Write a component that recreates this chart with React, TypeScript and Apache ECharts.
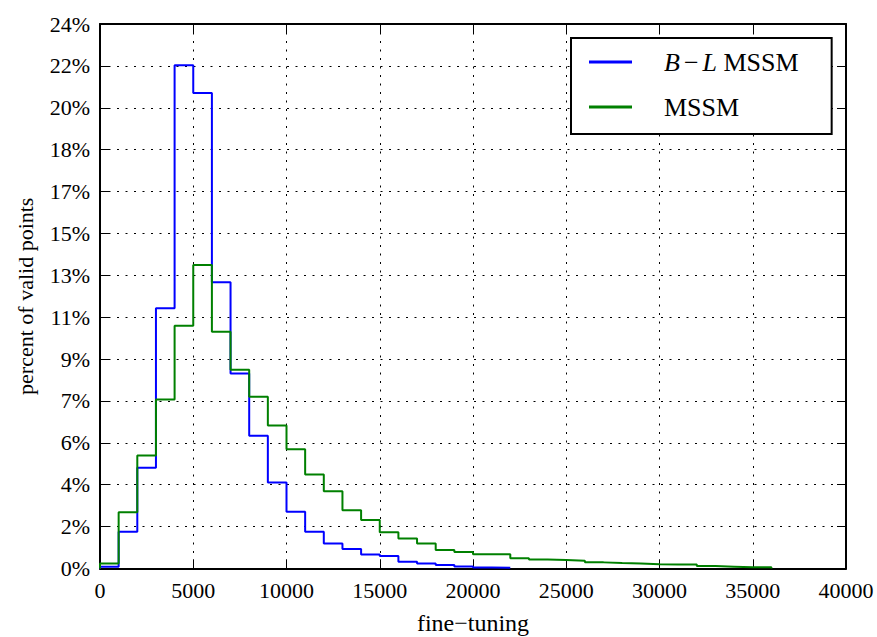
import React, { useEffect, useRef } from "react";
import * as echarts from "echarts";

// Histogram of fine-tuning values, bins of width 1000 starting at 0 (percent of valid points per bin)
const binWidth = 1000;
const blMssmPercent = [
  0.08, 1.62, 4.44, 11.47, 22.18, 20.96, 12.62, 8.6, 5.85, 3.79, 2.5, 1.62, 1.1, 0.86, 0.62,
  0.55, 0.3, 0.22, 0.15, 0.09, 0.04, 0.03,
];
const mssmPercent = [
  0.22, 2.48, 4.98, 7.45, 10.7, 13.38, 10.43, 8.76, 7.57, 6.3, 5.26, 4.14, 3.4, 2.57, 2.14, 1.6,
  1.32, 1.1, 0.82, 0.73, 0.63, 0.63, 0.45, 0.4, 0.37, 0.34, 0.27, 0.24, 0.22, 0.19, 0.18, 0.18,
  0.11, 0.08, 0.05, 0.05,
];
const seriesNames = ["B\u2212L MSSM", "MSSM"];
const xTicks = { min: 0, max: 40000, interval: 5000 };
const yTicks = { min: 0, max: 24, count: 13 };

const FONT = "Liberation Serif";

// Turn bin heights into the outline of a step histogram
function stepOutline(values: number[]): [number, number][] {
  const pts: [number, number][] = [[0, 0]];
  values.forEach((v, i) => pts.push([i * binWidth, v]));
  pts.push([values.length * binWidth, 0]);
  return pts;
}

export default function App() {
  const ref = useRef<HTMLDivElement>(null);

  useEffect(() => {
    if (!ref.current) return;
    const chart = echarts.init(ref.current, null, { renderer: "svg" });
    const yInterval = yTicks.max / yTicks.count;
    const dotted = { color: "#000", width: 1, type: [2, 6.5] as number[] };
    const boxLine = { show: true, onZero: false, lineStyle: { color: "#000", width: 2 } };
    const inTicks = { show: true, inside: true, length: 9, lineStyle: { color: "#000", width: 1 } };

    chart.setOption({
      animation: false,
      backgroundColor: "#fff",
      textStyle: { fontFamily: FONT },
      grid: {
        left: 100,
        right: 31,
        top: 24,
        bottom: 68.5,
        containLabel: false,
        outerBoundsMode: "none",
      },
      legend: {
        orient: "vertical",
        left: 571,
        top: 38,
        padding: [11, 33, 14, 18],
        itemGap: 19,
        itemWidth: 43,
        itemHeight: 3,
        icon: "rect",
        backgroundColor: "#fff",
        borderColor: "#000",
        borderWidth: 2,
        borderRadius: 0,
        data: seriesNames,
        formatter: (name: string) =>
          name === seriesNames[0] ? "{i|B}{m|\u2212}{i|L}{n| MSSM}" : "{n|" + name + "}",
        textStyle: {
          fontFamily: FONT,
          fontSize: 26,
          color: "#000",
          padding: [0, 0, 0, 27],
          lineHeight: 26,
          rich: {
            i: { fontFamily: FONT, fontSize: 26, fontStyle: "italic", color: "#000" },
            m: { fontFamily: FONT, fontSize: 26, color: "#000", padding: [0, 4, 0, 4] },
            n: { fontFamily: FONT, fontSize: 26, color: "#000" },
          },
        },
      },
      xAxis: [
        {
          type: "value",
          min: xTicks.min,
          max: xTicks.max,
          interval: xTicks.interval,
          name: "fine\u2212tuning",
          nameLocation: "middle",
          nameGap: 42,
          nameTextStyle: { fontFamily: FONT, fontSize: 24, color: "#000" },
          axisLine: boxLine,
          axisTick: inTicks,
          axisLabel: {
            fontFamily: FONT,
            fontSize: 22,
            color: "#000",
            margin: 11,
            formatter: (v: number) => String(v),
          },
          splitLine: { show: true, lineStyle: dotted },
        },
        {
          type: "value",
          position: "top",
          min: xTicks.min,
          max: xTicks.max,
          interval: xTicks.interval,
          axisLine: boxLine,
          axisTick: inTicks,
          axisLabel: { show: false },
          splitLine: { show: false },
        },
      ],
      yAxis: [
        {
          type: "value",
          min: yTicks.min,
          max: yTicks.max,
          interval: yInterval,
          name: "percent of valid points",
          nameLocation: "middle",
          nameGap: 64,
          nameTextStyle: { fontFamily: FONT, fontSize: 22, color: "#000" },
          axisLine: boxLine,
          axisTick: inTicks,
          axisLabel: {
            fontFamily: FONT,
            fontSize: 22,
            color: "#000",
            margin: 10,
            formatter: (v: number) => Math.round(v) + "%",
          },
          splitLine: { show: true, lineStyle: dotted },
        },
        {
          type: "value",
          position: "right",
          min: yTicks.min,
          max: yTicks.max,
          interval: yInterval,
          axisLine: boxLine,
          axisTick: inTicks,
          axisLabel: { show: false },
          splitLine: { show: false },
        },
      ],
      series: [
        {
          name: seriesNames[0],
          type: "line",
          step: "end",
          symbol: "none",
          data: stepOutline(blMssmPercent),
          lineStyle: { color: "#0000ff", width: 2 },
          itemStyle: { color: "#0000ff" },
          z: 3,
        },
        {
          name: seriesNames[1],
          type: "line",
          step: "end",
          symbol: "none",
          data: stepOutline(mssmPercent),
          lineStyle: { color: "#008000", width: 2 },
          itemStyle: { color: "#008000" },
          z: 4,
        },
      ],
    });

    return () => chart.dispose();
  }, []);

  return (
    <div
      ref={ref}
      style={{ width: 877, height: 637, position: "absolute", left: 0, top: 0 }}
    />
  );
}
